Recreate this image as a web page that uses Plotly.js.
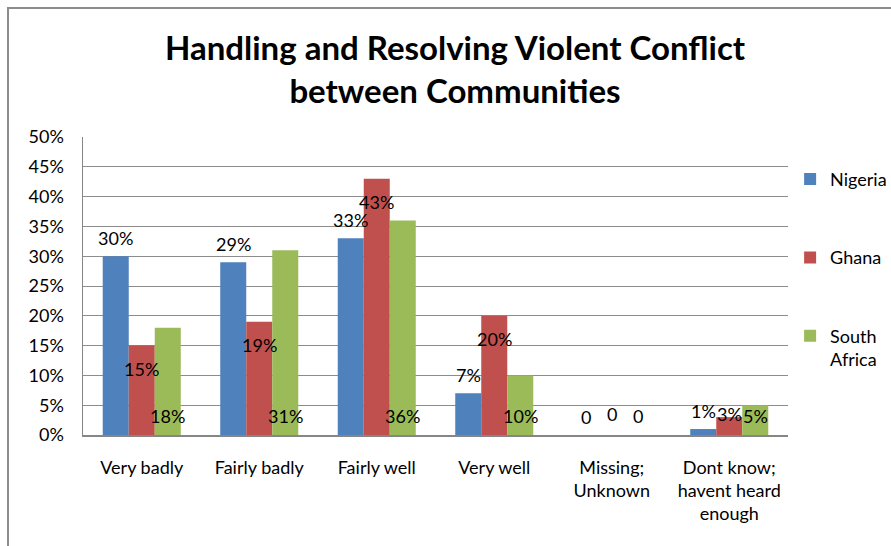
<!DOCTYPE html>
<html>
<head>
<meta charset="utf-8">
<script src="https://cdn.plot.ly/plotly-3.0.1.min.js"></script>
<style>
  html, body { margin: 0; padding: 0; background: #fff; overflow: hidden; }
  #wrap { position: relative; width: 891px; height: 546px; }
  #frame { position: absolute; left: 7px; top: 7px; width: 1000px; height: 700px; border: 2px solid #8c8c8c; box-sizing: border-box; pointer-events: none; }
  #chart { position: absolute; left: 0; top: 0; width: 891px; height: 546px; }
</style>
</head>
<body>
<div id="wrap">
  <div id="chart"></div>
  <div id="frame"></div>
</div>
<script>
// ---- data ----
var categories = ["Very badly", "Fairly badly", "Fairly well", "Very well", "Missing; Unknown", "Dont know; havent heard enough"];
var tickLabels = ["Very badly", "Fairly badly", "Fairly well", "Very well", "Missing;<br>Unknown", "Dont know;<br>havent heard<br>enough"];
var nigeria = [30, 29, 33, 7, 0, 1];
var ghana = [15, 19, 43, 20, 0, 3];
var southAfrica = [18, 31, 36, 10, 0, 5];
var seriesNames = ["Nigeria", "Ghana", "South<br>Africa"];
var yTickVals = [0, 5, 10, 15, 20, 25, 30, 35, 40, 45, 50];
var yTickLabels = ["0%", "5%", "10%", "15%", "20%", "25%", "30%", "35%", "40%", "45%", "50%"];

// ---- style ----
var colors = ["#4F81BD", "#C0504D", "#9BBB59"];
var FONT = "Lato, 'Open Sans', sans-serif";
var W = 891, H = 546;
var margin = {l: 83, r: 103, t: 137, b: 111, autoexpand: false};
var plotW = W - margin.l - margin.r;
var plotH = H - margin.t - margin.b;
var bargap = 0.336;
var catPx = plotW / categories.length;
var barPx = catPx * (1 - bargap) / 3;
var pxPerUnit = plotH / 50;

function fmt(v) { return v === 0 ? "0" : v + "%"; }

var series = [nigeria, ghana, southAfrica];
var traces = series.map(function (vals, i) {
  return {
    type: "bar",
    name: seriesNames[i],
    x: categories,
    y: vals,
    marker: {color: colors[i], line: {width: 0}},
    legendgroup: "g" + i,
    hoverinfo: "skip"
  };
});

var annotations = [];
var lblFont = {family: FONT, size: 18, color: "#000"};
categories.forEach(function (c, ci) {
  // Nigeria: above bar
  annotations.push({
    x: c, y: nigeria[ci], xref: "x", yref: "y", text: fmt(nigeria[ci]),
    showarrow: false, xshift: -barPx, yshift: 18, yanchor: "middle", font: lblFont
  });
  // Ghana: inside near top, clamped near base
  var gPx = Math.max(ghana[ci] * pxPerUnit - 23, 21.5);
  annotations.push({
    x: c, y: ghana[ci], xref: "x", yref: "y", text: fmt(ghana[ci]),
    showarrow: false, xshift: 0, yshift: gPx - ghana[ci] * pxPerUnit, yanchor: "middle", font: lblFont
  });
  // South Africa: inside base
  annotations.push({
    x: c, y: 0, xref: "x", yref: "y", text: fmt(southAfrica[ci]),
    showarrow: false, xshift: barPx, yshift: 19, yanchor: "middle", font: lblFont
  });
});

var layout = {
  width: W, height: H,
  margin: margin,
  paper_bgcolor: "rgba(0,0,0,0)",
  plot_bgcolor: "#fff",
  font: {family: FONT, size: 18, color: "#000"},
  barmode: "group",
  bargap: bargap,
  bargroupgap: 0,
  title: {
    text: "<b>Handling and Resolving Violent Conflict<br>between Communities</b>",
    font: {family: FONT, size: 33, color: "#000"},
    xref: "container", x: 455 / W, xanchor: "center",
    yref: "container", y: 1 - 60 / H, yanchor: "top"
  },
  xaxis: {
    type: "category",
    tickvals: categories,
    ticktext: tickLabels,
    showgrid: false,
    showline: true, linecolor: "#868686", linewidth: 2,
    ticks: "", ticklabelstandoff: 15,
    tickfont: {family: FONT, size: 18, color: "#000"},
    automargin: false,
    fixedrange: true
  },
  yaxis: {
    range: [0, 50],
    tickvals: yTickVals,
    ticktext: yTickLabels,
    showgrid: true, gridcolor: "#8c8c8c", gridwidth: 1,
    showline: true, linecolor: "#868686", linewidth: 1.5,
    zeroline: false,
    ticks: "", ticklabelstandoff: 14,
    tickfont: {family: FONT, size: 18, color: "#000"},
    automargin: false,
    fixedrange: true
  },
  legend: {
    x: 1.003, xanchor: "left", xref: "paper",
    y: 0.92, yanchor: "top",
    tracegroupgap: 52,
    valign: "top",
    font: {family: FONT, size: 18, color: "#000"},
    bgcolor: "rgba(0,0,0,0)"
  },
  annotations: annotations,
  showlegend: true
};

Plotly.newPlot("chart", traces, layout, {displayModeBar: false, staticPlot: true});
</script>
</body>
</html>
